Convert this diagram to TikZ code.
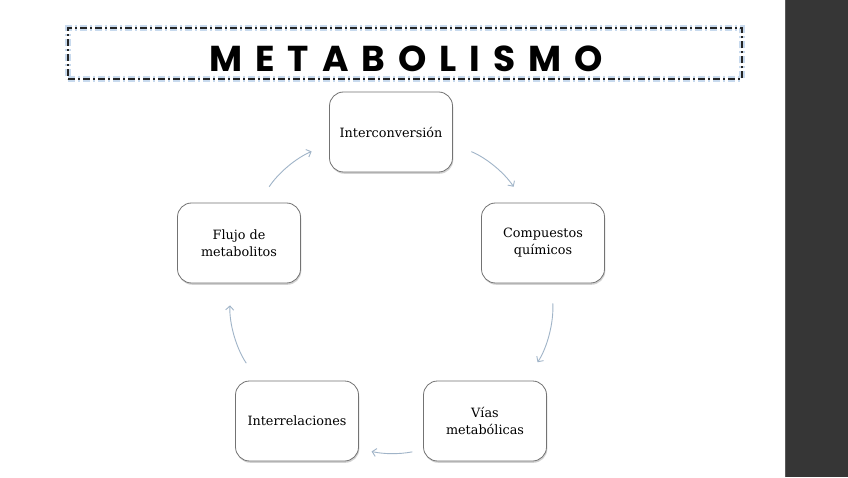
\documentclass[tikz,border=0pt]{standalone}
\usepackage{fontspec}
\usetikzlibrary{arrows.meta,shadows}
\newfontfamily\cajafont{DejaVu Serif}
\newfontfamily\titulofont{Poppins}[LetterSpace=36]
\definecolor{flechaazul}{RGB}{160,180,200}
\definecolor{brillo}{RGB}{200,218,238}
\definecolor{panel}{RGB}{54,54,54}
\tikzset{
	caja/.style={draw=gray!90!black, line width=0.8pt, rounded corners=14pt, fill=white,
		minimum width=123pt, minimum height=80pt, inner sep=0pt, align=center,
		font=\cajafont\fontsize{12.8}{17}\selectfont,
		drop shadow={shadow xshift=0.8pt, shadow yshift=-1.8pt, opacity=0.35}},
	flecha/.style={draw=flechaazul, line width=0.9pt, -{Straight Barb[length=4pt,width=8pt]}}
}
\begin{document}
\begin{tikzpicture}[x=1pt,y=1pt]
		\useasboundingbox[fill=white] (0,0) rectangle (848,477);
		\fill[panel] (785,0) rectangle (848,477);
		\draw[gray!70!black, line width=1pt] (785.5,0) -- (785.5,477);
		% titulo
		\node[minimum width=674pt, minimum height=51pt, inner sep=0pt,
			preaction={draw=brillo, line width=6pt},
			draw=black!85, line width=2pt, dash pattern=on 7pt off 3pt on 2pt off 3pt] (marco) at (405,423) {};
		\node[font=\titulofont\bfseries\fontsize{36}{36}\selectfont, inner sep=0pt] (titulo) at (406,418) {METABOLISMO};
		% ciclo
		\node[caja] (inter) at (391,345) {Interconversión};
		\node[caja] (comp) at (543,234) {Compuestos\\químicos};
		\node[caja] (vias) at (485,56) {Vías\\metabólicas};
		\node[caja] (interrel) at (297,56) {Interrelaciones};
		\node[caja] (flujo) at (239,234) {Flujo de\\metabolitos};
		\draw[flecha, shorten <=20pt, shorten >=19pt] (inter.-11.3) to[bend left=17] (comp.115.4);
		\draw[flecha, shorten <=20pt, shorten >=22pt] (comp.-78.7) to[bend left=18.5] (vias.45.7);
		\draw[flecha, shorten <=11pt, shorten >=13pt] (vias.-155.8) to[bend left=11.7] (interrel.-24.2);
		\draw[flecha, shorten <=21pt, shorten >=22pt] (interrel.134.3) to[bend left=18.5] (flujo.-101.3);
		\draw[flecha, shorten <=19pt, shorten >=19pt] (flujo.64.6) to[bend left=16.8] (inter.191.3);
	\end{tikzpicture}
\end{document}
